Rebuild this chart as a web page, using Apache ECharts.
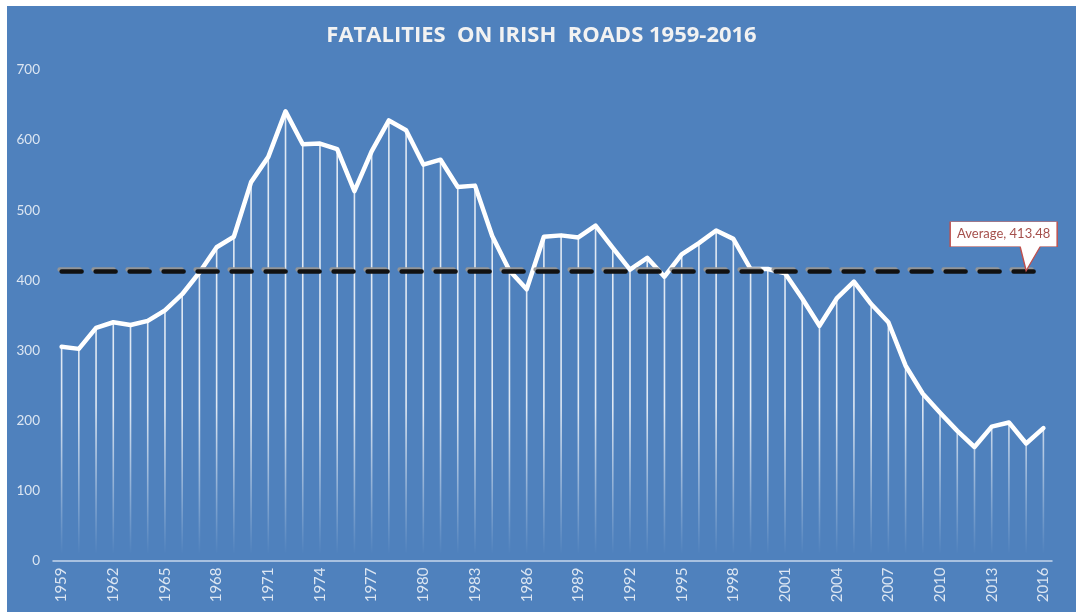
<!DOCTYPE html>
<html>
<head>
<meta charset="utf-8">
<script src="https://cdn.jsdelivr.net/npm/echarts@6.0.0/dist/echarts.min.js"></script>
<style>
  html, body { margin: 0; padding: 0; background: #ffffff; }
  #chart { position: absolute; left: 7px; top: 6px; width: 1069px; height: 606px; }
</style>
</head>
<body>
<div id="chart"></div>
<script>
// years on the x axis
var years = ['1959','1960','1961','1962','1963','1964','1965','1966','1967','1968',
  '1969','1970','1971','1972','1973','1974','1975','1976','1977','1978',
  '1979','1980','1981','1982','1983','1984','1985','1986','1987','1988',
  '1989','1990','1991','1992','1993','1994','1995','1996','1997','1998',
  '1999','2000','2001','2002','2003','2004','2005','2006','2007','2008',
  '2009','2010','2011','2012','2013','2014','2015','2016'];
// road deaths per year
var fatalities = [305, 302, 332, 340, 336, 342, 357, 380, 411, 447,
  462, 540, 576, 641, 594, 595, 587, 527, 584, 628,
  614, 565, 572, 533, 535, 463, 414, 387, 462, 464,
  461, 478, 446, 415, 432, 405, 437, 453, 471, 459,
  416, 416, 410, 374, 335, 374, 398, 366, 340, 278,
  238, 211, 185, 162, 191, 197, 167, 189];
var average = 413.48;
var avgLabel = 'Average, 413.48';
var yTicks = [0, 700, 100]; // min, max, step

var font = 'Lato, "Open Sans", sans-serif';
var myChart = echarts.init(document.getElementById('chart'));

myChart.setOption({
  backgroundColor: '#4f81bd',
  animation: false,
  title: {
    text: 'FATALITIES  ON IRISH  ROADS 1959-2016',
    left: 'center',
    top: 14,
    textStyle: { color: '#f2f2f2', fontSize: 22, fontWeight: 'bold', fontFamily: '"Open Sans", Lato, sans-serif' }
  },
  grid: { left: 46, right: 24, top: 64, bottom: 51.5 },
  xAxis: {
    type: 'category',
    data: years,
    boundaryGap: true,
    axisLine: { lineStyle: { color: '#c6d6ec', width: 1.5 } },
    axisTick: { show: false },
    axisLabel: {
      rotate: 90,
      interval: 2,
      margin: 7,
      color: '#dce6f2',
      fontSize: 15,
      fontFamily: font
    }
  },
  yAxis: {
    type: 'value',
    min: yTicks[0],
    max: yTicks[1],
    interval: yTicks[2],
    axisLine: { show: false },
    axisTick: { show: false },
    splitLine: { show: false },
    axisLabel: { color: '#dce6f2', fontSize: 13.5, margin: 13, fontFamily: font }
  },
  series: [
    {
      // thin drop lines under every point
      type: 'bar',
      data: fatalities,
      barWidth: 1.6,
      barGap: '-100%',
      z: 1,
      itemStyle: {
        color: new echarts.graphic.LinearGradient(0, 400, 0, 548, [
          { offset: 0, color: 'rgba(255,255,255,0.82)' },
          { offset: 1, color: 'rgba(255,255,255,0)' }
        ], true)
      }
    },
    {
      type: 'line',
      data: fatalities,
      z: 3,
      symbol: 'none',
      lineStyle: { color: '#ffffff', width: 4.5, join: 'round', cap: 'round' },
      markLine: {
        silent: true,
        symbol: ['none', 'none'],
        label: { show: false },
        lineStyle: {
          color: '#111111',
          width: 4.5,
          type: [20, 14],
          cap: 'round',
          shadowColor: 'rgba(150,150,150,0.95)',
          shadowOffsetX: -2,
          shadowOffsetY: -2,
          shadowBlur: 0
        },
        data: [[
          { coord: [years[0], average] },
          { coord: [years[years.length - 1], average] }
        ]]
      },
      markPoint: {
        silent: true,
        symbol: 'path://M0,0 L107,0 L107,25 L90,25 L76,49 L70,25 L0,25 Z',
        symbolSize: [107, 49],
        symbolKeepAspect: false,
        symbolOffset: [-22.5, -24.5],
        itemStyle: { color: '#ffffff', borderColor: '#c0504d', borderWidth: 1 },
        label: {
          show: true,
          position: 'inside',
          offset: [0, -12],
          formatter: avgLabel,
          color: '#a5504c',
          fontSize: 13,
          fontFamily: font
        },
        data: [{ coord: [years[years.length - 2], average] }]
      }
    }
  ]
});
</script>
</body>
</html>
